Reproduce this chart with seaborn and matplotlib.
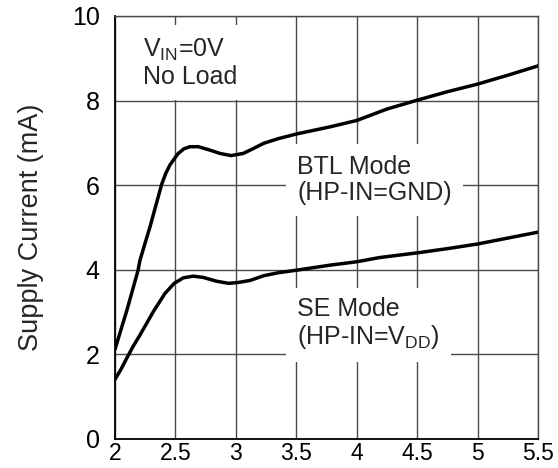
import matplotlib
matplotlib.use("Agg")
import matplotlib.pyplot as plt
import seaborn as sns
import pandas as pd

# Supply voltage (V) and supply current (mA)
btl_x = [2.0, 2.1, 2.19, 2.207, 2.29, 2.386, 2.42, 2.455, 2.52, 2.57, 2.62, 2.69, 2.785,
         2.87, 2.96, 3.06, 3.14, 3.23, 3.35, 3.5, 3.78, 4.0, 4.25, 4.5, 4.75, 5.0, 5.25, 5.5]
btl_y = [2.12, 3.06, 3.98, 4.23, 5.02, 6.02, 6.28, 6.48, 6.74, 6.86, 6.91, 6.91, 6.83,
         6.75, 6.70, 6.75, 6.86, 6.99, 7.10, 7.21, 7.38, 7.53, 7.80, 8.01, 8.21, 8.39, 8.60, 8.82]

se_x = [2.0, 2.05, 2.097, 2.15, 2.207, 2.317, 2.413, 2.49, 2.565, 2.647, 2.73, 2.84, 2.94,
        3.02, 3.12, 3.23, 3.35, 3.5, 3.78, 4.0, 4.19, 4.5, 4.75, 5.0, 5.25, 5.5]
se_y = [1.41, 1.65, 1.91, 2.19, 2.46, 3.01, 3.44, 3.68, 3.81, 3.85, 3.82, 3.73, 3.68,
        3.70, 3.75, 3.86, 3.93, 3.99, 4.11, 4.19, 4.29, 4.40, 4.50, 4.61, 4.75, 4.89]

x_ticks = [2, 2.5, 3, 3.5, 4, 4.5, 5, 5.5]
x_tick_labels = ["2", "2.5", "3", "3.5", "4", "4.5", "5", "5.5"]
y_ticks = [0, 2, 4, 6, 8, 10]
y_tick_labels = ["0", "2", "4", "6", "8", "10"]

sns.set_style("white")
plt.rcParams["font.family"] = ["Liberation Sans", "DejaVu Sans"]

df = pd.concat([
    pd.DataFrame({"v": btl_x, "i": btl_y, "mode": "BTL"}),
    pd.DataFrame({"v": se_x, "i": se_y, "mode": "SE"}),
])

fig = plt.figure(figsize=(5.58, 4.68), dpi=100)
ax = fig.add_axes([115 / 558, 1 - 439 / 468, 423 / 558, 423 / 468])

sns.lineplot(data=df, x="v", y="i", units="mode", estimator=None, sort=False,
             color="black", linewidth=2.5, ax=ax, legend=False, zorder=3)

ax.set_xlim(2, 5.5)
ax.set_ylim(0, 10)
ax.set_xticks(x_ticks)
ax.set_xticklabels(x_tick_labels)
ax.set_yticks(y_ticks)
ax.set_yticklabels(y_tick_labels)
ax.tick_params(axis="both", length=0, colors="black")
ax.tick_params(axis="y", pad=11, labelsize=18)
ax.tick_params(axis="x", pad=2.5, labelsize=16.5)
ax.grid(True, color="#4a4a4a", linewidth=1.0)
ax.set_axisbelow(True)
ax.set_xlabel("")
ax.set_ylabel("Supply Current (mA)", fontsize=19.5, labelpad=20)

for side in ["left", "bottom"]:
    ax.spines[side].set_color("black")
    ax.spines[side].set_linewidth(1.3)
for side in ["top", "right"]:
    ax.spines[side].set_color("#4a4a4a")
    ax.spines[side].set_linewidth(1.0)

box = dict(facecolor="white", edgecolor="none", pad=8)
ax.text(2.23, 9.5, "V$_{\\mathregular{IN}}$=0V\nNo Load", fontsize=18, va="top",
        ha="left", bbox=box, zorder=4, linespacing=1.1)
ax.text(3.51, 6.72, "BTL Mode\n(HP-IN=GND)", fontsize=18, va="top", ha="left",
        bbox=box, zorder=4, linespacing=1.1)
ax.text(3.51, 3.36, "SE Mode\n(HP-IN=V$_{\\mathregular{DD}}$)", fontsize=18, va="top",
        ha="left", bbox=box, zorder=4, linespacing=1.1)

fig.savefig("out.png", dpi=100)
